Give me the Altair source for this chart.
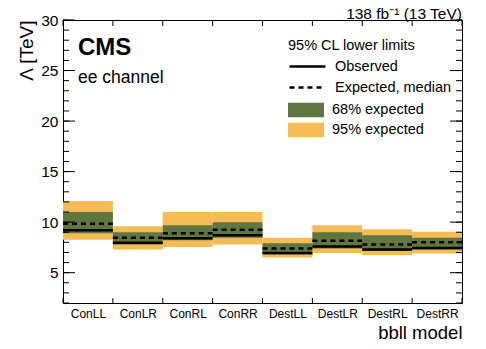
import json
import altair as alt
import pandas as pd

FONT = "Liberation Sans"

categories = ["ConLL", "ConLR", "ConRL", "ConRR", "DestLL", "DestLR", "DestRL", "DestRR"]
observed = [9.2, 7.95, 8.4, 8.7, 6.95, 7.6, 7.3, 7.45]
expected_median = [9.85, 8.45, 8.9, 9.25, 7.4, 8.15, 7.8, 8.0]
exp68_low = [8.9, 7.8, 8.2, 8.45, 6.8, 7.4, 7.15, 7.3]
exp68_high = [11.0, 9.0, 9.7, 10.0, 7.9, 9.0, 8.7, 8.45]
exp95_low = [8.25, 7.3, 7.55, 7.8, 6.5, 6.95, 6.75, 6.9]
exp95_high = [12.1, 9.6, 11.0, 11.0, 8.45, 9.7, 9.3, 9.05]
y_minor_ticks = list(range(2, 31))
y_major_ticks = list(range(5, 31, 5))
x_edges = list(range(len(categories) + 1))
band_names = ["68% expected", "95% expected"]
band_colors = ["#607641", "#F5BB54"]
line_names = ["Observed", "Expected, median"]
cms_label = {"t": ["CMS"], "x": [0.3], "y": [26.54]}
channel_label = {"t": ["ee channel"], "x": [0.3], "y": [23.77]}
lumi_label = {"t": ["138 fb⁻¹ (13 TeV)"], "x": [8.0], "y": [30.12]}

band_rows = []
for lo, hi, name in [(exp95_low, exp95_high, "95% expected"), (exp68_low, exp68_high, "68% expected")]:
    for i, c in enumerate(categories):
        band_rows.append({"model": c, "start": i, "end": i + 1, "band": name, "low": lo[i], "high": hi[i]})
bands = pd.DataFrame(band_rows)

line_rows = []
for vals, name in [(observed, "Observed"), (expected_median, "Expected, median")]:
    for i, c in enumerate(categories):
        line_rows.append({"model": c, "start": i, "end": i + 1, "kind": name, "value": vals[i]})
lines = pd.DataFrame(line_rows)

W, H = 399, 283
xscale = alt.Scale(domain=[0, len(categories)], nice=False, zero=False)
yscale = alt.Scale(domain=[2, 30], nice=False, zero=False)

# bottom axis: labels + frame line
x_labels = alt.Axis(
    orient="bottom", values=[i + 0.5 for i in range(len(categories))],
    labelExpr=f"{json.dumps(categories)}[floor(datum.value)]",
    ticks=False, domainColor="black", domainWidth=1,
    labelFont=FONT, labelFontSize=12, labelColor="black", labelPadding=5,
    labelOverlap=False, labelFlush=False, grid=False,
    title="bbll model", titleFont=FONT, titleFontSize=18.5, titleFontWeight="normal",
    titleColor="black", titleX=W, titleY=35, titleAlign="right", titleBaseline="alphabetic",
)
# top frame line
x_top = alt.Axis(
    orient="top", values=x_edges, labels=False, ticks=False, domain=True,
    domainColor="black", domainWidth=1, grid=False, title=None,
)
# left axis: labels + frame line
y_labels = alt.Axis(
    orient="left", values=y_major_ticks, ticks=False,
    domainColor="black", domainWidth=1,
    labelFont=FONT, labelFontSize=15.5, labelColor="black", labelPadding=5,
    labelOverlap=False, labelFlush=False, grid=False,
    title="Λ [TeV]", titleFont=FONT, titleFontSize=19, titleFontWeight="normal",
    titleColor="black", titleX=-31, titleY=0, titleAngle=270, titleAlign="right",
    titleBaseline="alphabetic",
)
# right frame line
y_right = alt.Axis(
    orient="right", values=y_minor_ticks, labels=False, ticks=False, domain=True,
    domainColor="black", domainWidth=1, grid=False, title=None,
)

rects = alt.Chart(bands).mark_rect().encode(
    x=alt.X("start:Q", scale=xscale, axis=x_labels),
    x2="end:Q",
    y=alt.Y("low:Q", scale=yscale, axis=y_labels),
    y2="high:Q",
    fill=alt.Fill(
        "band:N",
        scale=alt.Scale(domain=band_names, range=band_colors),
        legend=alt.Legend(
            title=None, orient="none", legendX=225, legendY=82, direction="vertical",
            symbolType="M-1,-0.4H1V0.4H-1Z", symbolSize=1296, symbolStrokeWidth=0,
            symbolOpacity=1, clipHeight=16, rowPadding=4, padding=0, labelOffset=8,
            labelFont=FONT, labelFontSize=14.5, labelColor="black", labelLimit=300,
        ),
    ),
)

rules = alt.Chart(lines).mark_rule(color="black", strokeWidth=2.5).encode(
    x=alt.X("start:Q", scale=xscale, axis=x_top),
    x2="end:Q",
    y=alt.Y("value:Q", scale=yscale, axis=y_right),
    strokeDash=alt.StrokeDash(
        "kind:N",
        scale=alt.Scale(domain=line_names, range=[[1, 0], [5, 4]]),
        legend=alt.Legend(
            title="95% CL lower limits", orient="none", legendX=225, legendY=19,
            direction="vertical", titleFont=FONT, titleFontSize=14.5,
            titleFontWeight="normal", titleColor="black", titlePadding=5, titleLimit=300,
            symbolType="stroke", symbolSize=1296, symbolStrokeWidth=2.5,
            symbolStrokeColor="black", clipHeight=16, rowPadding=5, padding=0,
            labelOffset=8, labelFont=FONT, labelFontSize=14.5, labelColor="black",
            labelLimit=300,
        ),
    ),
)


# inward-pointing tick marks along the frame (drawn through the scales)
def y_ticks(vals, x0, x1):
    return alt.Chart(pd.DataFrame({"v": vals})).mark_rule(color="black", strokeWidth=1).encode(
        y=alt.Y("v:Q", scale=yscale, axis=None), x=alt.value(x0), x2=alt.value(x1)
    )


def x_ticks(vals, y0, y1):
    return alt.Chart(pd.DataFrame({"v": vals})).mark_rule(color="black", strokeWidth=1).encode(
        x=alt.X("v:Q", scale=xscale, axis=None), y=alt.value(y0), y2=alt.value(y1)
    )


tick_layers = [
    y_ticks(y_minor_ticks, 0, 6), y_ticks(y_major_ticks, 0, 12),
    y_ticks(y_minor_ticks, W - 6, W), y_ticks(y_major_ticks, W - 12, W),
    x_ticks(x_edges, 0, 6), x_ticks(x_edges, H - 5, H),
]


def annotation(label, **style):
    return alt.Chart(pd.DataFrame(label)).mark_text(color="black", font=FONT, **style).encode(
        text="t:N",
        x=alt.X("x:Q", scale=xscale, axis=None),
        y=alt.Y("y:Q", scale=yscale, axis=None),
    )


cms = annotation(cms_label, fontSize=24, fontWeight="bold", align="left", baseline="alphabetic")
channel = annotation(channel_label, fontSize=17.5, align="left", baseline="alphabetic")
lumi = annotation(lumi_label, fontSize=15.5, align="right", baseline="alphabetic")

chart = alt.layer(rects, rules, *tick_layers, cms, channel, lumi).resolve_axis(
    x="independent", y="independent"
).properties(
    width=W, height=H,
    autosize=alt.AutoSizeParams(type="none"),
    padding={"left": 55, "top": 12, "right": 16, "bottom": 38},
).configure_view(stroke=None)

chart.save("out.html", embed_options={"renderer": "svg", "actions": False})
